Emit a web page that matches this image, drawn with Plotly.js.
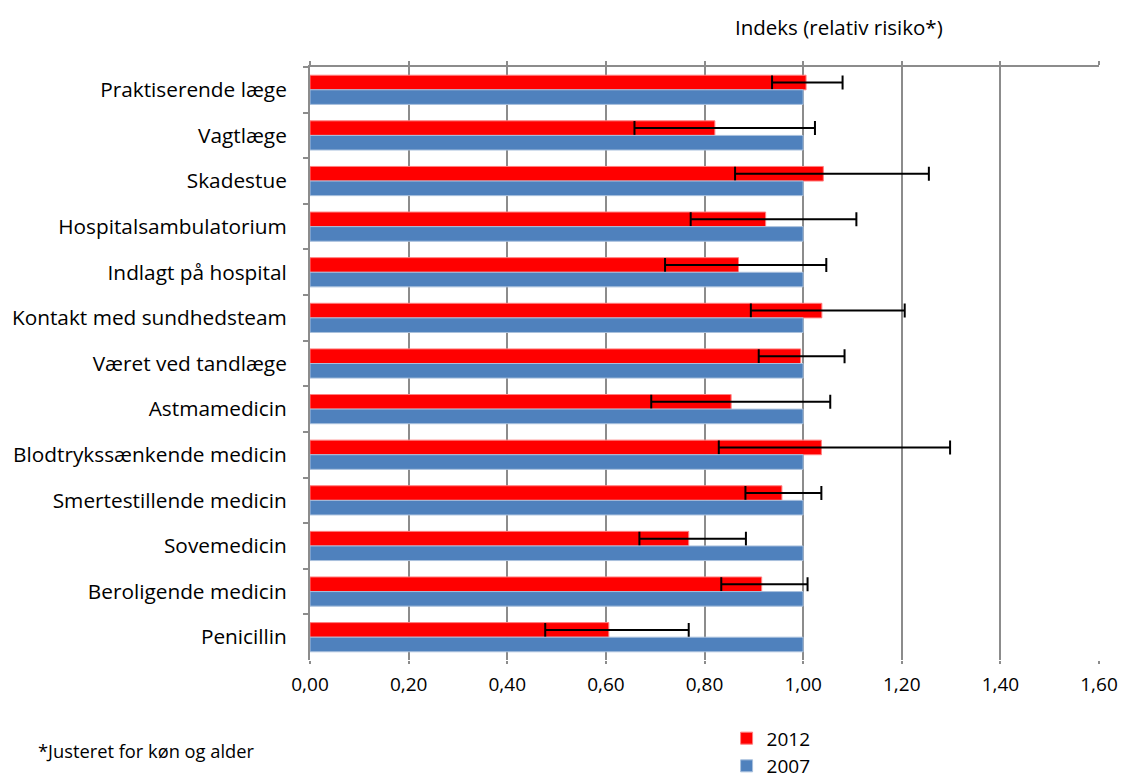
<!DOCTYPE html>
<html>
<head>
<meta charset="utf-8">
<script src="https://cdn.plot.ly/plotly-3.0.1.min.js"></script>
<style>html,body{margin:0;padding:0;background:#fff;}#chart{width:1123px;height:778px;}</style>
</head>
<body>
<div id="chart"></div>
<script>
var categories = ["Praktiserende læge","Vagtlæge","Skadestue","Hospitalsambulatorium","Indlagt på hospital","Kontakt med sundhedsteam","Været ved tandlæge","Astmamedicin","Blodtrykssænkende medicin","Smertestillende medicin","Sovemedicin","Beroligende medicin","Penicillin"];
var values2012 = [1.006,0.821,1.041,0.924,0.869,1.038,0.995,0.854,1.037,0.957,0.768,0.916,0.606];
var lower2012  = [0.937,0.658,0.862,0.772,0.720,0.894,0.910,0.692,0.829,0.883,0.668,0.834,0.477];
var upper2012  = [1.080,1.024,1.255,1.108,1.047,1.206,1.084,1.055,1.298,1.037,0.884,1.009,0.768];
var values2007 = [1,1,1,1,1,1,1,1,1,1,1,1,1];
var xTicks = [0,0.2,0.4,0.6,0.8,1.0,1.2,1.4,1.6];

var FONT = "'Open Sans', Lato, sans-serif";
var GRID = "#8c8c8c";

var errPlus = values2012.map(function(v,i){return upper2012[i]-v;});
var errMinus = values2012.map(function(v,i){return v-lower2012[i];});

var data = [
  {type:"bar", orientation:"h", name:"2012", y:categories, x:values2012,
   marker:{color:"#FF0000", line:{color:"#ff8080", width:1}},
   error_x:{type:"data", symmetric:false, array:errPlus, arrayminus:errMinus, color:"#000", thickness:2, width:7},
   hoverinfo:"x+y"},
  {type:"bar", orientation:"h", name:"2007", y:categories, x:values2007,
   marker:{color:"#4F81BD", line:{color:"#a9c0dd", width:1}},
   hoverinfo:"x+y"},
  {type:"scatter", mode:"markers", x:[], y:[], xaxis:"x2", yaxis:"y", showlegend:false, hoverinfo:"skip"}
];

var layout = {
  width:1123, height:778,
  margin:{l:310, r:24, t:67, b:118, autoexpand:false},
  paper_bgcolor:"#fff", plot_bgcolor:"#fff",
  separators:", ",
  font:{family:FONT, size:18, color:"#000"},
  barmode:"group", bargap:0.36, bargroupgap:0,
  showlegend:true,
  legend:{x:0.528, y:-0.1, xanchor:"left", yanchor:"top", orientation:"v", traceorder:"normal",
          font:{family:FONT, size:19, color:"#000"}, itemwidth:30, tracegroupgap:0, bgcolor:"rgba(0,0,0,0)"},
  xaxis:{range:[0,1.6], tickvals:xTicks, tickformat:".2f", showgrid:true, gridcolor:GRID, gridwidth:2,
         zeroline:false, showline:false, ticks:"outside", ticklen:3, tickcolor:GRID, tickwidth:2, ticklabelstandoff:4,
         tickfont:{family:FONT, size:19, color:"#000"}, fixedrange:true},
  xaxis2:{range:[0,1.6], tickvals:xTicks, overlaying:"x", side:"top", anchor:"y", showgrid:false, zeroline:false,
          showline:true, linecolor:GRID, linewidth:2, ticks:"outside", ticklen:4, tickcolor:GRID, tickwidth:2,
          showticklabels:false, fixedrange:true},
  yaxis:{type:"category", autorange:"reversed", showgrid:false, zeroline:false, showline:true, linecolor:GRID, linewidth:2,
         ticks:"outside", tickson:"boundaries", ticklen:5, tickcolor:GRID, tickwidth:2, ticklabelstandoff:17,
         tickfont:{family:FONT, size:20.8, color:"#000"}, fixedrange:true},
  annotations:[
    {text:"Indeks (relativ risiko*)", xref:"paper", yref:"paper", x:0.536, y:1.067, xanchor:"left", yanchor:"middle",
     showarrow:false, font:{family:FONT, size:20.5, color:"#000"}},
    {text:"*Justeret for køn og alder", xref:"paper", yref:"paper", x:-0.347, y:-0.152, xanchor:"left", yanchor:"middle",
     showarrow:false, font:{family:FONT, size:18.3, color:"#000"}}
  ]
};

Plotly.newPlot("chart", data, layout, {displayModeBar:false, staticPlot:true});
</script>
</body>
</html>
